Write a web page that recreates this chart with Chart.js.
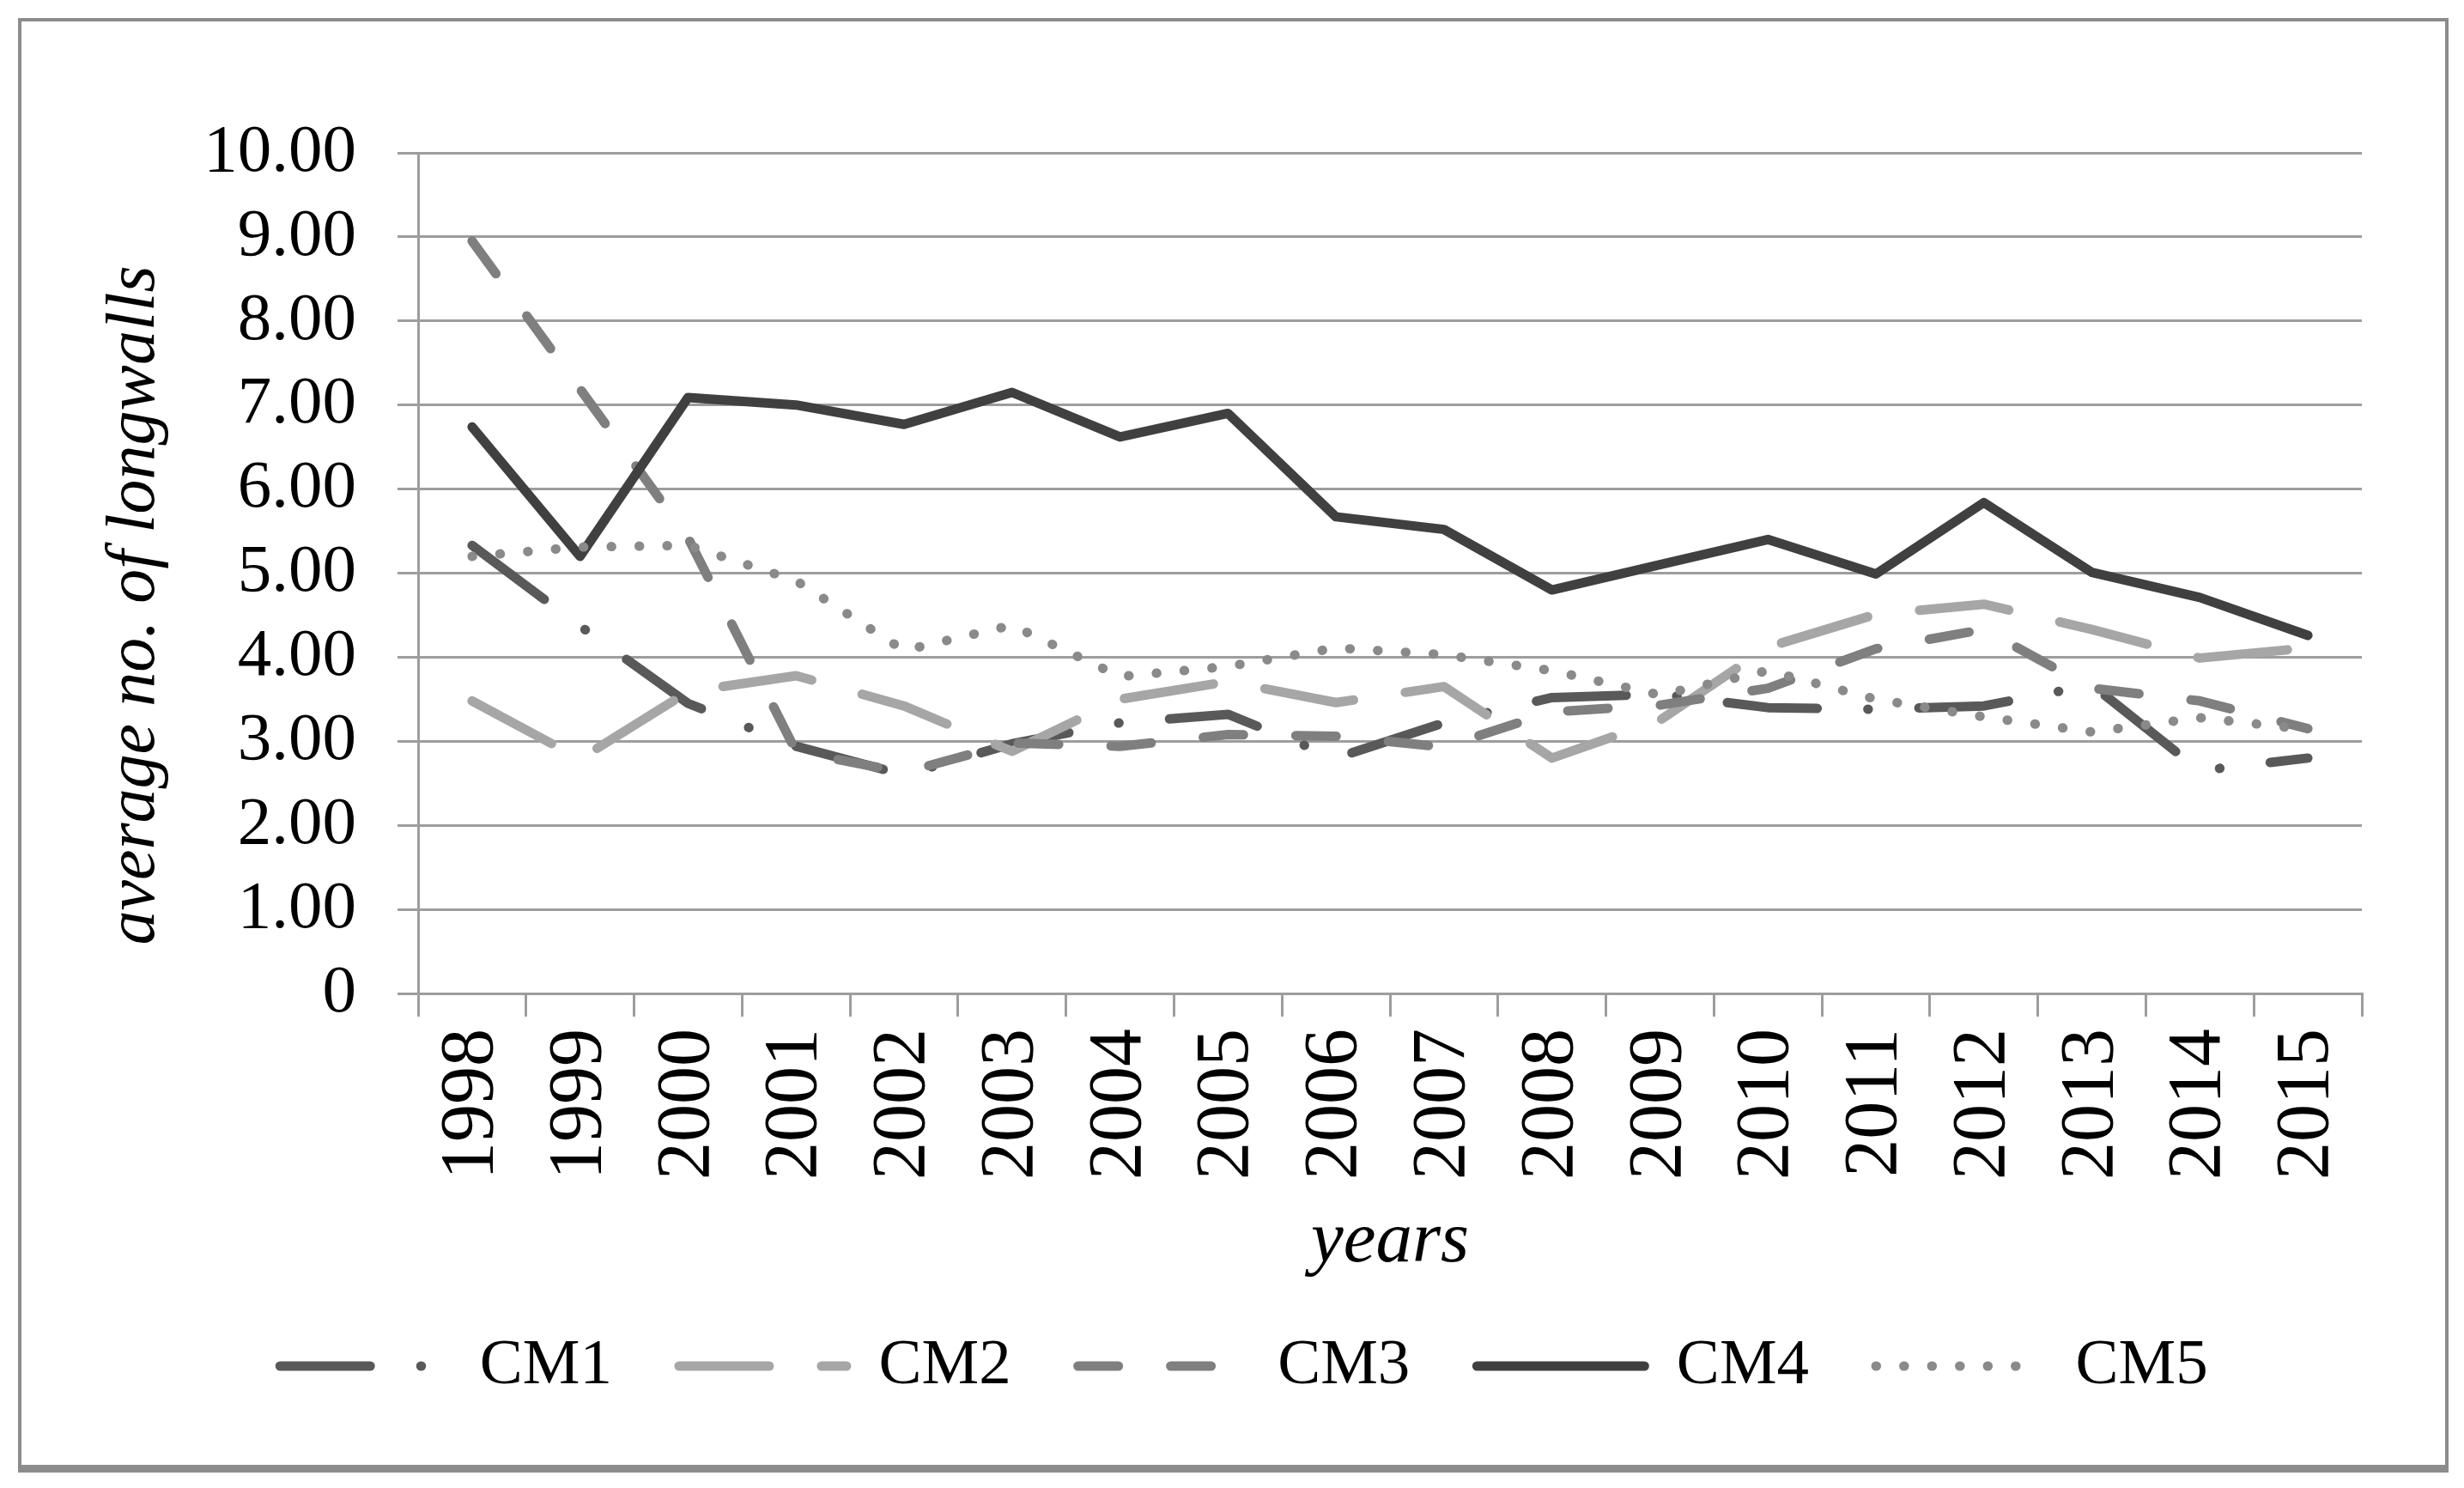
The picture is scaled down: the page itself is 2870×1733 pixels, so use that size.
<!DOCTYPE html>
<html>
<head>
<meta charset="utf-8">
<script src="https://cdn.jsdelivr.net/npm/chart.js@4/dist/chart.umd.min.js"></script>
<style>
    html, body { margin: 0; padding: 0; background: #fff; }
    body { width: 2870px; height: 1733px; position: relative; overflow: hidden; }
    #frame {
        position: absolute; left: 21px; top: 21px; width: 2831px; height: 1694px;
        box-sizing: border-box; border: 4px solid #8c8c8c; border-bottom-width: 9px;
    }
    #canvas { position: absolute; left: 0; top: 0; }
</style>
</head>
<body>
<div id="frame"></div>
<canvas id="canvas" width="2870" height="1733"></canvas>
<script>
// Годы (категории оси X).
const years = ['1998', '1999', '2000', '2001', '2002', '2003', '2004', '2005', '2006',
    '2007', '2008', '2009', '2010', '2011', '2012', '2013', '2014', '2015']

// Значения серий.
const cm1 = [5.33, 4.37, 3.45, 2.94, 2.60, 2.97, 3.22, 3.32, 2.80, 3.22, 3.52, 3.56, 3.40, 3.38, 3.42, 3.67, 2.65, 2.80]
const cm2 = [3.48, 2.79, 3.59, 3.78, 3.42, 2.88, 3.50, 3.71, 3.46, 3.65, 2.80, 3.25, 4.12, 4.51, 4.63, 4.33, 3.99, 4.11]
const cm3 = [8.95, 7.19, 5.42, 2.88, 2.63, 2.98, 2.94, 3.08, 3.06, 2.93, 3.35, 3.43, 3.63, 4.10, 4.33, 3.63, 3.48, 3.15]
const cm4 = [6.74, 5.20, 7.09, 7.00, 6.77, 7.15, 6.62, 6.90, 5.67, 5.52, 4.80, 5.10, 5.40, 4.99, 5.84, 5.01, 4.71, 4.26]
const cm5 = [5.20, 5.31, 5.33, 4.91, 4.08, 4.38, 3.77, 3.89, 4.11, 4.03, 3.84, 3.55, 3.84, 3.50, 3.29, 3.11, 3.28, 3.14]

// Подписи осей.
const xTitle = 'years'
const yTitle = 'average no. of longwalls'

const gridColor = '#9d9d9d'

Chart.defaults.animation = false
Chart.defaults.font.family = '"Liberation Serif", serif'
Chart.defaults.color = '#000'

// Подпись оси Y рисуем сами, чтобы поставить её как в оригинале.
const yTitlePlugin = {
    id: 'yTitle',
    afterDraw(chart) {
        const ctx = chart.ctx
        ctx.save()
        ctx.translate(158, 705)
        ctx.rotate(-Math.PI / 2)
        ctx.font = 'italic 80px "Liberation Serif"'
        ctx.fillStyle = '#000'
        ctx.textAlign = 'center'
        ctx.textBaseline = 'middle'
        ctx.fillText(yTitle, 0, 0)
        ctx.restore()
    },
}

function series(label, data, color, dash, order) {
    return {
        label,
        data,
        borderColor: color,
        backgroundColor: color,
        borderWidth: 11,
        borderDash: dash,
        borderCapStyle: 'round',
        borderJoinStyle: 'round',
        pointRadius: 0,
        tension: 0,
        order,
    }
}

const chart = new Chart(document.querySelector('#canvas'), {
    type: 'line',
    data: {
        labels: years,
        datasets: [
            series('CM1', cm1, '#595959', [105, 59, 0.5, 59], 4),
            series('CM2', cm2, '#a6a6a6', [105, 61], 3),
            series('CM3', cm3, '#7f7f7f', [47, 61], 2),
            series('CM4', cm4, '#404040', [], 1),
            series('CM5', cm5, '#8a8a8a', [0.5, 32], 0),
        ],
    },
    options: {
        responsive: false,
        devicePixelRatio: 1,
        layout: {
            padding: { left: 147, right: 119, top: 178, bottom: 94.5 },
        },
        scales: {
            x: {
                offset: true,
                grid: {
                    offset: true,
                    drawOnChartArea: false,
                    drawTicks: true,
                    tickLength: 27,
                    color: gridColor,
                    lineWidth: 3,
                },
                border: { display: true, color: gridColor, width: 3 },
                ticks: {
                    autoSkip: false,
                    minRotation: 90,
                    maxRotation: 90,
                    padding: 14,
                    font: { size: 88 },
                },
                title: {
                    display: true,
                    text: xTitle,
                    padding: 0,
                    font: { size: 85, style: 'italic', lineHeight: 0.67 },
                },
                afterFit(scale) {
                    scale.height = 318.5
                },
            },
            y: {
                min: 0,
                max: 10,
                grid: { color: gridColor, lineWidth: 3, tickLength: 24 },
                border: { display: true, color: gridColor, width: 3 },
                ticks: {
                    stepSize: 1,
                    padding: 48,
                    font: { size: 79 },
                    callback: v => (v === 0 ? '0' : v.toFixed(2)),
                },
                afterFit(scale) {
                    scale.width = 340
                },
            },
        },
        plugins: {
            tooltip: { enabled: false },
            legend: {
                position: 'bottom',
                labels: {
                    usePointStyle: true,
                    pointStyleWidth: 195,
                    padding: 78,
                    font: { size: 75 },
                    generateLabels(chart) {
                        return chart.data.datasets.map((ds, i) => ({
                            text: ds.label,
                            fillStyle: 'rgba(0,0,0,0)',
                            strokeStyle: ds.borderColor,
                            lineWidth: ds.borderWidth,
                            lineDash: ds.borderDash,
                            lineCap: 'round',
                            pointStyle: 'line',
                            fontColor: '#000',
                            hidden: false,
                            datasetIndex: i,
                        }))
                    },
                },
            },
        },
    },
    plugins: [yTitlePlugin],
})
</script>
</body>
</html>
